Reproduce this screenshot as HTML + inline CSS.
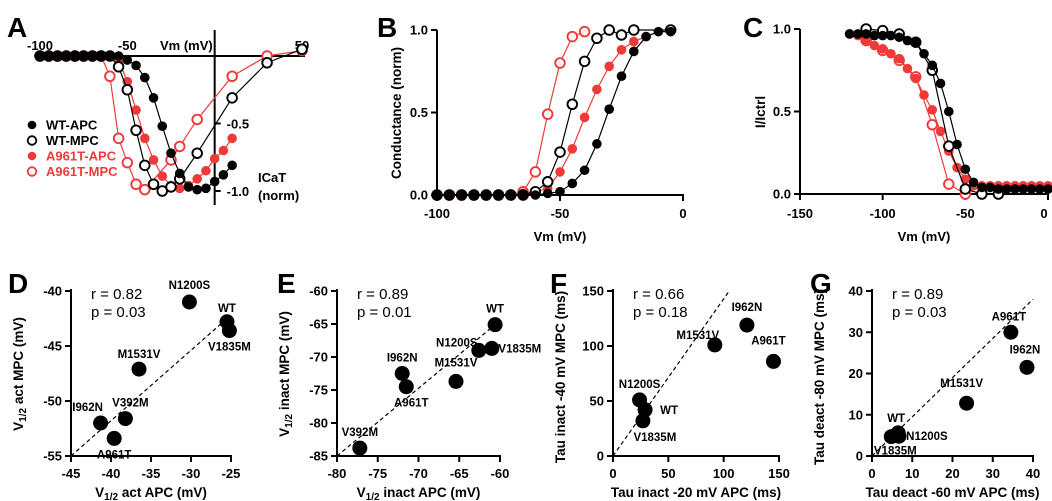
<!DOCTYPE html>
<html><head><meta charset="utf-8"><style>
body{margin:0;background:#fff}
svg{display:block;font-family:"Liberation Sans",Arial,sans-serif}
.t{font-size:13px;font-weight:bold}
.L{font-size:28px;font-weight:bold}
.lab{font-size:13.5px;font-weight:bold}
.st{font-size:15px}
.pl{font-size:11.5px;font-weight:bold}
</style></head><body>
<svg id="fig" width="1052" height="501" viewBox="0 0 1052 501"></svg>
<script>
// Panel A (I-V), voltages -100..50 step 5
const ivV=[-100,-95,-90,-85,-80,-75,-70,-65,-60,-55,-50,-45,-40,-35,-30,-25,-20,-15,-10,-5,0,5,10,15,20,25,30,35,40,45,50];
const ivWtApc=[0,0,0,0,0,0,0,0,0,0,0.03,0.07,0.16,0.31,0.52,0.72,0.87,0.97,0.99,0.98,0.93,0.88,0.81,null,null,null,null,null,null,null,null];
const ivWtMpc=[0,0,0,0,0,0,0,0,0,0.08,0.25,0.55,0.81,0.95,1.0,0.97,0.91,null,0.72,null,null,null,0.31,null,null,null,0.05,null,null,null,-0.05];
const ivA9Apc=[0,0,0,0,0,0,0,0,0,0.03,0.19,0.40,0.61,0.77,0.89,0.96,0.98,0.96,0.91,0.85,0.76,0.70,0.61,null,null,null,null,null,null,null,null];
const ivA9Mpc=[0,0,0,0,0,0,0,0,0.15,0.61,0.79,0.95,0.99,null,null,0.77,0.67,null,0.47,null,null,null,0.15,null,null,null,0.0,null,null,null,-0.04];
// Panel B (activation)
const gV=[-100,-95,-90,-85,-80,-75,-70,-65,-60,-55,-50,-45,-40,-35,-30,-25,-20,-15,-10,-5];
const gWtApc=[0,0,0,0,0,0,0,0,0,0.01,0.02,0.07,0.15,0.31,0.52,0.72,0.87,0.96,0.99,0.99];
const gWtMpc=[0,0,0,0,0,0,0,0,0.02,0.08,0.26,0.55,0.81,0.95,1.0,0.97,1.0,null,null,1.0];
const gA9Apc=[0,0,0,0,0,0,0,0.01,0.02,0.04,0.14,0.28,0.47,0.64,0.78,0.88,0.93,0.96,null,null];
const gA9Mpc=[0,0,0,0,0,0,0,0.02,0.14,0.49,0.80,0.96,0.99,null,null,null,null,null,null,null];
// Panel C (inactivation)
const hV=[-120,-115,-110,-105,-100,-95,-90,-85,-80,-75,-70,-65,-60,-55,-50,-45,-40,-35,-30,-25,-20,-15,-10,-5,0];
const hWtApc=[0.97,0.97,0.97,0.96,0.96,0.96,0.95,0.93,0.92,0.85,0.78,0.67,0.5,0.3,0.15,0.07,0.04,0.04,0.03,0.03,0.03,0.03,0.03,0.03,0.03];
const hWtMpc=[null,null,1.0,null,0.99,null,0.97,null,0.92,null,0.75,null,0.29,null,0.03,null,0.0,null,0.0,null,null,null,null,null,null];
const hA9Apc=[0.97,0.96,0.93,0.9,0.88,0.85,0.82,0.76,0.7,0.6,0.51,0.38,0.26,0.16,0.09,0.05,0.05,0.05,0.05,0.05,0.05,0.05,0.05,0.05,0.05];
const hA9Mpc=[null,null,0.93,null,0.87,null,0.81,null,0.71,null,0.42,null,0.06,null,0.0,null,null,null,null,null,null,null,null,null,null];
// Scatter panels
const dNames=["N1200S","WT","V1835M","M1531V","V392M","I962N","A961T"];
const dX=[-30.2,-25.5,-25.2,-36.5,-38.2,-41.3,-39.6];
const dY=[-41,-42.8,-43.6,-47.1,-51.6,-52,-53.4];
const eNames=["WT","N1200S","V1835M","I962N","A961T","M1531V","V392M"];
const eX=[-60.6,-62.6,-61,-72,-71.5,-65.4,-77.2];
const eY=[-65.1,-69,-68.7,-72.5,-74.5,-73.7,-83.8];
const fNames=["I962N","M1531V","A961T","N1200S","WT","V1835M"];
const fX=[121,92,145,24,29,27];
const fY=[119,101,86,51,42,32];
const gNames=["A961T","I962N","M1531V","WT","N1200S","V1835M"];
const gX2=[34.5,38.5,23.5,6.5,6.7,4.8];
const gY2=[30,21.5,12.8,5.6,4.8,4.7];

const S=document.getElementById('fig');const NS='http://www.w3.org/2000/svg';
function mk(t,a,p){const e=document.createElementNS(NS,t);for(const k in a)e.setAttribute(k,a[k]);(p||S).appendChild(e);return e;}
function txt(x,y,s,cls,anchor,name,extra){const e=mk('text',Object.assign({x:x,y:y,class:cls,'text-anchor':anchor||'start'},extra||{}));e.textContent=s;


return e;}
function line(x1,y1,x2,y2,w,name,dash){const e=mk('line',{x1,y1,x2,y2,stroke:'#000','stroke-width':w||2});if(dash)e.setAttribute('stroke-dasharray',dash);


return e;}
function lin(d0,d1,p0,p1){return v=>p0+(v-d0)*(p1-p0)/(d1-d0);}
function series(xs,ys,sx,sy,color,filled,name,r){
  const g=mk('g',{});
  
  
  let pts=[];xs.forEach((x,i)=>{if(ys[i]!=null)pts.push([sx(x),sy(ys[i])]);});
  const pl=mk('polyline',{points:pts.map(p=>p.join(',')).join(' '),fill:'none',stroke:color,'stroke-width':1.2},g);
  
  
  pts.forEach(p=>{const c=mk('circle',{cx:p[0],cy:p[1],r:r||4.8,fill:filled?color:'#fff',stroke:color,'stroke-width':filled?0:1.9},g);
    
    });
}
const RED='#f03a3a';
// ===== Panel A
{const sx=lin(-100,50,40,302),sy=lin(0,-1,56,191);
txt(7,37,'A','L','start','panel-a-label');
line(40,56,305,56,2,'a-x-axis');line(sx(0),30,sx(0),205,2,'a-y-axis');
[[-0.5,'-0.5'],[-1,'-1.0']].forEach(t=>{line(sx(0),sy(t[0]),sx(0)+6,sy(t[0]),2,'a-y-tick');txt(sx(0)+12,sy(t[0])+5,t[1],'t','start','a-y-tick-label');});
[[-100,'-100'],[-50,'-50'],[50,'50']].forEach(t=>txt(sx(t[0]),50,t[1],'t','middle','a-x-tick-label'));
txt(160,50,'Vm (mV)','t','start','a-x-axis-title');
txt(258,182,'ICaT','t','start','a-y-axis-title');txt(258,200,'(norm)','t','start','a-y-axis-title-2');
series(ivV,ivA9Mpc.map(v=>v==null?null:-v),sx,sy,RED,false,'a-a961t-mpc');
series(ivV,ivA9Apc.map(v=>v==null?null:-v),sx,sy,RED,true,'a-a961t-apc');
series(ivV,ivWtMpc.map(v=>v==null?null:-v),sx,sy,'#000',false,'a-wt-mpc');
series(ivV,ivWtApc.map(v=>v==null?null:-v),sx,sy,'#000',true,'a-wt-apc');
const leg=[['WT-APC','#000',true],['WT-MPC','#000',false],['A961T-APC',RED,true],['A961T-MPC',RED,false]];
leg.forEach((l,i)=>{const y=125+i*15.5;const c=mk('circle',{cx:32,cy:y,r:4.3,fill:l[2]?l[1]:'#fff',stroke:l[1],'stroke-width':l[2]?0:1.8});

txt(46,y+4.5,l[0],'t','start','legend-entry',{fill:l[1]});});
}
// ===== Panel B
{const sx=lin(-100,0,437,683),sy=lin(0,1,195,30);
txt(377,37,'B','L','start','panel-b-label');
line(437,30,437,196,2,'b-y-axis');line(436,195,684,195,2,'b-x-axis');
[[0,'0.0'],[0.5,'0.5'],[1,'1.0']].forEach(t=>{line(431,sy(t[0]),437,sy(t[0]),2,'b-y-tick');txt(428,sy(t[0])+4.5,t[1],'t','end','b-y-tick-label');});
[[-100,'-100'],[-50,'-50'],[0,'0']].forEach(t=>{line(sx(t[0]),195,sx(t[0]),201,2,'b-x-tick');txt(sx(t[0]),218,t[1],'t','middle','b-x-tick-label');});
txt(560,241,'Vm (mV)','t','middle','b-x-axis-title');
txt(401,113,'Conductance (norm)','lab','middle','b-y-axis-title',{transform:'rotate(-90 401 113)'});
series(gV,gA9Mpc,sx,sy,RED,false,'b-a961t-mpc');series(gV,gA9Apc,sx,sy,RED,true,'b-a961t-apc');
series(gV,gWtMpc,sx,sy,'#000',false,'b-wt-mpc');series(gV,gWtApc,sx,sy,'#000',true,'b-wt-apc');
}
// ===== Panel C
{const sx=lin(-150,0,800,1048),sy=lin(0,1,194,29);
txt(743,37,'C','L','start','panel-c-label');
line(800,29,800,195,2,'c-y-axis');line(799,194,1049,194,2,'c-x-axis');
[[0,'0.0'],[0.5,'0.5'],[1,'1.0']].forEach(t=>{line(794,sy(t[0]),800,sy(t[0]),2,'c-y-tick');txt(791,sy(t[0])+4.5,t[1],'t','end','c-y-tick-label');});
[[-150,'-150'],[-100,'-100'],[-50,'-50'],[0,'0']].forEach(t=>{line(sx(t[0]),194,sx(t[0]),200,2,'c-x-tick');txt(Math.min(sx(t[0]),1044),218,t[1],'t','middle','c-x-tick-label');});
txt(924,241,'Vm (mV)','t','middle','c-x-axis-title');
txt(765,112,'I/Ictrl','lab','middle','c-y-axis-title',{transform:'rotate(-90 765 112)'});
series(hV,hA9Mpc,sx,sy,RED,false,'c-a961t-mpc');series(hV,hA9Apc,sx,sy,RED,true,'c-a961t-apc');
series(hV,hWtMpc,sx,sy,'#000',false,'c-wt-mpc');series(hV,hWtApc,sx,sy,'#000',true,'c-wt-apc');
}
// ===== Scatter panels
function scatter(o){
  const sx=lin(o.x0,o.x1,o.px0,o.px1),sy=lin(o.y0,o.y1,456,291);
  txt(o.lx,293,o.letter,'L','start','panel-'+o.letter.toLowerCase()+'-label');
  line(o.px0,289,o.px0,457,2,o.id+'-y-axis');line(o.px0-1,456,o.px1+1,456,2,o.id+'-x-axis');
  o.yt.forEach(t=>{line(o.px0-6,sy(t),o.px0,sy(t),2,o.id+'-y-tick');txt(o.px0-9,sy(t)+4.5,String(t),'t','end',o.id+'-y-tick-label');});
  o.xt.forEach(t=>{line(sx(t),456,sx(t),462,2,o.id+'-x-tick');txt(sx(t),478,String(t),'t','middle',o.id+'-x-tick-label');});
  const xt=mk('text',{x:(o.px0+o.px1)/2,y:497,class:'lab','text-anchor':'middle'});xt.innerHTML=o.xl;
  
  const yx=o.px0-48,yy=o.yc||374;const yt=mk('text',{x:yx,y:yy,class:'lab','text-anchor':'middle',transform:`rotate(-90 ${yx} ${yy})`});yt.innerHTML=o.yl;
  
  line(sx(o.fit[0]),sy(o.fit[1]),sx(o.fit[2]),sy(o.fit[3]),1.2,o.id+'-regression-line','4,3');
  txt(o.px0+20,299,o.r,'st','start',o.id+'-r-value');txt(o.px0+20,317,o.p,'st','start',o.id+'-p-value');
  o.xs.forEach((x,i)=>{const c=mk('circle',{cx:sx(x),cy:sy(o.ys[i]),r:7.5,fill:'#000'});
    
    const off=o.off[i];txt(sx(x)+off[0],sy(o.ys[i])+off[1],o.names[i],'pl','middle',o.id+'-point-label');});
}
const sub='<tspan>V</tspan><tspan font-size="10" dy="3">1/2</tspan><tspan dy="-3">';
scatter({id:'d',letter:'D',lx:8,x0:-45,x1:-25,px0:71,px1:231,y0:-55,y1:-40,xt:[-45,-40,-35,-30,-25],yt:[-40,-45,-50,-55],
 xl:sub+' act APC (mV)</tspan>',yl:sub+' act MPC (mV)</tspan>',fit:[-45,-55,-25.5,-42.5],r:'r = 0.82',p:'p = 0.03',
 names:dNames,xs:dX,ys:dY,off:[[0,-13],[0,-10],[0,20],[0,-11],[5,-12],[-13,-12],[0,20]]});
scatter({id:'e',letter:'E',lx:277,x0:-80,x1:-60,px0:337,px1:500,y0:-85,y1:-60,xt:[-80,-75,-70,-65,-60],yt:[-60,-65,-70,-75,-80,-85],
 xl:sub+' inact APC (mV)</tspan>',yl:sub+' inact MPC (mV)</tspan>',fit:[-80,-85,-60.5,-65],r:'r = 0.89',p:'p = 0.01',
 names:eNames,xs:eX,ys:eY,off:[[0,-12],[-22,-4],[28,4],[0,-12],[5,20],[0,-15],[0,-12]]});
scatter({id:'f',letter:'F',lx:550,x0:0,x1:150,px0:613,px1:779,y0:0,y1:150,xt:[0,50,100,150],yt:[0,50,100,150],yc:377,
 xl:'Tau inact -20 mV APC (ms)',yl:'Tau inact -40 mV MPC (ms)',fit:[0,0,105,150],r:'r = 0.66',p:'p = 0.18',
 names:fNames,xs:fX,ys:fY,off:[[0,-14],[-17,-6],[-5,-17],[0,-12],[24,4],[12,20]]});
scatter({id:'g',letter:'G',lx:810,x0:0,x1:40,px0:872,px1:1033,y0:0,y1:40,xt:[0,10,20,30,40],yt:[0,10,20,30,40],yc:377,
 xl:'Tau deact -60 mV APC (ms)',yl:'Tau deact -80 mV MPC (ms)',fit:[0,0,40,38],r:'r = 0.89',p:'p = 0.03',
 names:gNames,xs:gX2,ys:gY2,off:[[-2,-12],[-2,-14],[-5,-16],[-2,-11],[28,4],[4,18]]});
</script>
</body></html>
